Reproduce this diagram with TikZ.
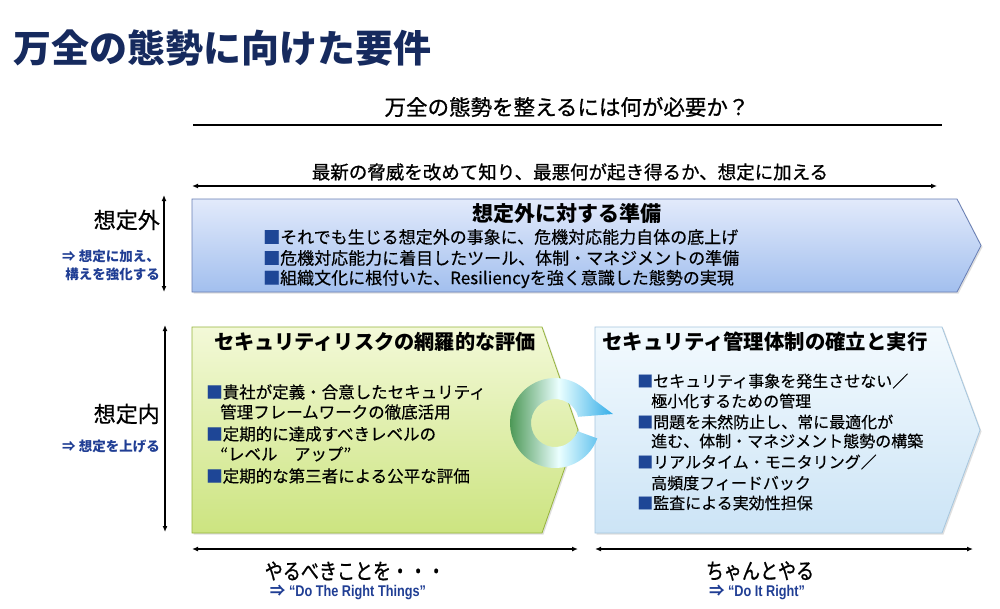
\documentclass[tikz,border=0pt]{standalone}
\usepackage{fontspec}
\usepackage{xcolor}
\usetikzlibrary{arrows.meta,shadows}
\setmainfont{Noto Sans CJK JP}
\newfontfamily\jpm[FakeBold=0.8]{Noto Sans CJK JP}
\newfontfamily\jps[FakeBold=0.35]{Noto Sans CJK JP}
\newfontfamily\jpc[FakeStretch=0.82,FakeBold=0.8]{Noto Sans CJK JP}
\newfontfamily\latc[FakeStretch=0.82]{Liberation Sans}
\definecolor{navy}{RGB}{22,42,94}
\definecolor{lblue}{RGB}{32,62,148}
\definecolor{bsq}{RGB}{30,70,150}
\definecolor{topA}{RGB}{226,234,251}
\definecolor{topB}{RGB}{162,191,238}
\definecolor{topE}{RGB}{104,126,180}
\definecolor{grA}{RGB}{243,249,216}
\definecolor{grB}{RGB}{204,228,128}
\definecolor{grE}{RGB}{150,180,60}
\definecolor{blA}{RGB}{243,250,254}
\definecolor{blB}{RGB}{204,228,246}
\definecolor{blE}{RGB}{166,198,222}
\definecolor{rgG}{RGB}{58,140,66}
\definecolor{rgB}{RGB}{50,172,232}
\newcommand{\sq}{{\color{bsq}■}}
\tikzset{
  txt/.style={inner sep=0pt, text=black},
  ttl/.style={txt, font=\bfseries\fontsize{21}{24}\selectfont},
  bul/.style={txt, anchor=west},
  side/.style={txt, anchor=east, font=\jpm\fontsize{22}{24}\selectfont},
  sidesub/.style={txt, anchor=east, text=lblue, font=\bfseries\fontsize{13.5}{15}\selectfont},
  dbl/.style={line width=1.3pt, {Latex[length=6pt,width=5pt]}-{Latex[length=6pt,width=5pt]}},
  shad/.style={drop shadow={shadow xshift=1.5pt, shadow yshift=-1.5pt, opacity=0.25}},
}
\begin{document}
\begin{tikzpicture}[x=1pt,y=-1pt]
\fill[white] (0,0) rectangle (1000,608);
\useasboundingbox (0,0) rectangle (1000,608);

% title
\node[txt, anchor=west, text=navy, font=\bfseries\fontsize{38}{40}\selectfont] (title) at (13,48) {万全の態勢に向けた要件};

% question
\node[txt, font=\jpm\fontsize{21.5}{24}\selectfont] (q) at (567,107) {万全の態勢を整えるには何が必要か？};
\coordinate (qL) at (193,125);
\coordinate (qR) at (942,125);
\draw[line width=1.3pt] (qL) -- (qR);

\node[txt, font=\jpm\fontsize{18.5}{21}\selectfont] (sub) at (570,172) {最新の脅威を改めて知り、最悪何が起き得るか、想定に加える};
\coordinate (sL) at (192,186);
\coordinate (sR) at (937,186);
\draw[dbl] (sL) -- (sR);

% top box
\path[shad, draw=topE, line width=0.8pt, top color=topA, bottom color=topB]
  (192,199) -- (957,199) -- (981,245.5) -- (957,292) -- (192,292) -- cycle;
\node[ttl] (t1) at (567,214) {想定外に対する準備};
\begin{scope}[font=\jps\fontsize{17}{20}\selectfont]
\node[bul] (t1a) at (263,237) {\sq それでも生じる想定外の事象に、危機対応能力自体の底上げ};
\node[bul] (t1b) at (263,258) {\sq 危機対応能力に着目したツール、体制・マネジメントの準備};
\node[bul] (t1c) at (263,279) {\sq 組織文化に根付いた、Resiliencyを強く意識した態勢の実現};
\end{scope}

% left labels
\node[side] (l1) at (160,220) {想定外};
\node[sidesub] (l1a) at (160,256) {⇒ 想定に加え、};
\node[sidesub] (l1b) at (160,274) {構えを強化する};
\coordinate (v1T) at (164,195);
\coordinate (v1B) at (164,292);
\draw[dbl] (v1T) -- (v1B);

\node[side] (l2) at (160,414) {想定内};
\node[sidesub] (l2a) at (160,446) {⇒ 想定を上げる};
\coordinate (v2T) at (165,325);
\coordinate (v2B) at (165,532);
\draw[dbl] (v2T) -- (v2B);

% green box
\path[shad, draw=grE, line width=0.8pt, top color=grA, bottom color=grB]
  (192,327) -- (542,327) -- (578,430) -- (542,533) -- (192,533) -- cycle;
\node[ttl, font=\bfseries\fontsize{20.2}{24}\selectfont] (g0) at (375,342) {セキュリティリスクの網羅的な評価};
\begin{scope}[font=\jps\fontsize{16.5}{20}\selectfont]
\node[bul] (g1) at (206,392) {\sq 貴社が定義・合意したセキュリティ};
\node[bul] (g2) at (220,412) {管理フレームワークの徹底活用};
\node[bul] (g3) at (206,434) {\sq 定期的に達成すべきレベルの};
\node[bul] (g4) at (220,454) {“レベル　アップ”};
\node[bul] (g5) at (206,476) {\sq 定期的な第三者による公平な評価};
\end{scope}

% blue box
\path[shad, draw=blE, line width=0.8pt, top color=blA, bottom color=blB]
  (595,327) -- (942,327) -- (980,430) -- (942,533) -- (595,533) -- cycle;
\node[ttl, font=\bfseries\fontsize{20.4}{24}\selectfont] (b0) at (765,342) {セキュリティ管理体制の確立と実行};
\begin{scope}[font=\jps\fontsize{16}{20}\selectfont]
\node[bul] (b1) at (637,381) {\sq セキュリティ事象を発生させない／};
\node[bul] (b2) at (651,401) {極小化するための管理};
\node[bul] (b3) at (637,422) {\sq 問題を未然防止し、常に最適化が};
\node[bul] (b4) at (651,441) {進む、体制・マネジメント態勢の構築};
\node[bul] (b5) at (637,462) {\sq リアルタイム・モニタリング／};
\node[bul] (b6) at (651,483) {高頻度フィードバック};
\node[bul] (b7) at (637,503) {\sq 監査による実効性担保};
\end{scope}

% cycle arrow
\coordinate (ring) at (555,423);
\path[left color=rgG, right color=rgB, middle color=white!92!cyan]
  ([shift={(20:45)}]ring) arc[start angle=20, end angle=328, radius=45]
  -- (613,414) -- ([shift={(345:24)}]ring)
  arc[start angle=345, end angle=20, radius=24] -- cycle;

% bottom
\coordinate (aL1) at (192,549);
\coordinate (aR1) at (578,549);
\coordinate (aL2) at (595,549);
\coordinate (aR2) at (973,549);
\draw[dbl] (aL1) -- (aR1);
\draw[dbl] (aL2) -- (aR2);
\node[txt, font=\jpc\fontsize{22}{24}\selectfont] (d1) at (355,571) {やるべきことを・・・};
\node[txt, text=lblue, font=\bfseries\fontsize{15.5}{18}\selectfont] (d1s) at (348,592) {⇒ {\latc\bfseries “Do The Right Things”}};
\node[txt, font=\jpc\fontsize{22}{24}\selectfont] (d2) at (760,571) {ちゃんとやる};
\node[txt, text=lblue, font=\bfseries\fontsize{15.5}{18}\selectfont] (d2s) at (757,592) {⇒ {\latc\bfseries “Do It Right”}};
\end{tikzpicture}
\end{document}
